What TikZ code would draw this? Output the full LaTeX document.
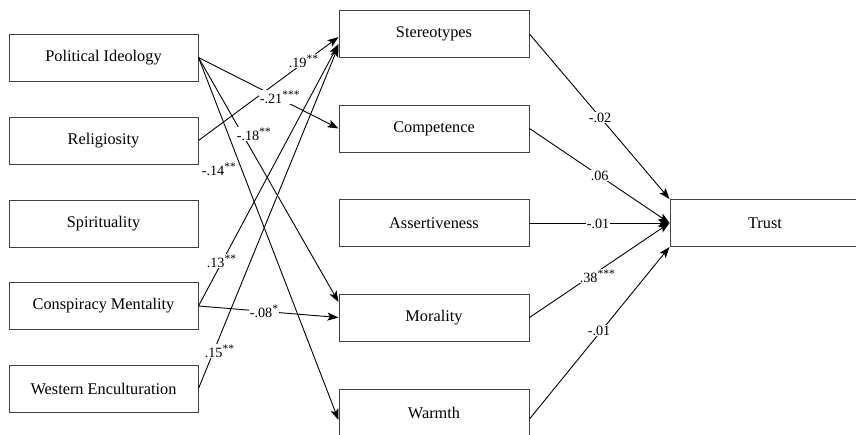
\documentclass[tikz,border=0pt]{standalone}
\usepackage{fontspec}
\setmainfont{Liberation Serif}
\newfontfamily\pathfont{Liberation Serif}
\usetikzlibrary{arrows.meta}
\newcommand{\sig}[1]{\raisebox{4.5pt}{\fontsize{11.5}{12}\selectfont #1}}
\begin{document}
\begin{tikzpicture}[x=1pt,y=-1pt,
  var/.style={draw=black!75, line width=1pt, minimum width=189pt, minimum height=47pt,
    inner sep=0pt, font=\pathfont\fontsize{16.3}{19}\selectfont},
  link/.style={draw=black, line width=0.9pt, -{Stealth[length=11pt,width=8pt,inset=2.5pt]}},
  coef/.style={fill=white, inner sep=0.6pt, anchor=base west, font=\pathfont\fontsize{14.2}{16}\selectfont}]

\useasboundingbox (0,0) rectangle (856,434);
\fill[white] (0,0) rectangle (856,434);

% predictors
\node[var] (pol)  at (103.5,57.5)  {Political Ideology};
\node[var] (rel)  at (103.5,140.5) {Religiosity};
\node[var] (spi)  at (103.5,223.5) {Spirituality};
\node[var] (con)  at (103.5,306)   {Conspiracy Mentality};
\node[var] (wes)  at (103.5,388.5) {Western Enculturation};

% mediators
\node[var, minimum width=190pt] (ste) at (434,34)    {Stereotypes};
\node[var, minimum width=190pt] (com) at (434,128.5) {Competence};
\node[var, minimum width=190pt] (ass) at (434,223)   {Assertiveness};
\node[var, minimum width=190pt] (mor) at (434,317.5) {Morality};
\node[var, minimum width=190pt] (war) at (434,412.5) {Warmth};

% outcome
\node[var, minimum width=190pt] (tru) at (765,223) {Trust};

% paths from predictors to mediators
\draw[link] (pol.east) -- (com.west);
\draw[link] (pol.east) -- ([yshift=15.5pt]mor.west);
\draw[link] (pol.east) -- ([yshift=-7.5pt]war.west);
\draw[link] (rel.east) -- ([yshift=-3pt]ste.west);
\draw[link] (con.east) -- ([yshift=-10pt]ste.west);
\draw[link] (con.east) -- (mor.west);
\draw[link] (wes.east) -- ([yshift=-12pt]ste.west);

% paths from mediators to trust
\draw[link] (ste.east) -- (tru.north west);
\draw[link] (com.east) -- (tru.west);
\draw[link] (ass.east) -- (tru.west);
\draw[link] (mor.east) -- (tru.west);
\draw[link] ([yshift=-6.5pt]war.east) -- (tru.south west);

% coefficients
\node[coef] (c1)  at (259,103) {-.21\sig{***}};
\node[coef] (c2)  at (288,67)  {.19\sig{**}};
\node[coef] (c3)  at (236,140) {-.18\sig{**}};
\node[coef] (c4)  at (201,175) {-.14\sig{**}};
\node[coef] (c5)  at (206,267) {.13\sig{**}};
\node[coef] (c6)  at (249,317) {-.08\sig{*}};
\node[coef] (c7)  at (204,357) {.15\sig{**}};
\node[coef] (c8)  at (588,122) {-.02};
\node[coef] (c9)  at (590,180) {.06};
\node[coef] (c10) at (586,228) {-.01};
\node[coef] (c11) at (579,282) {.38\sig{***}};
\node[coef] (c12) at (587,335) {-.01};
\end{tikzpicture}
\end{document}
